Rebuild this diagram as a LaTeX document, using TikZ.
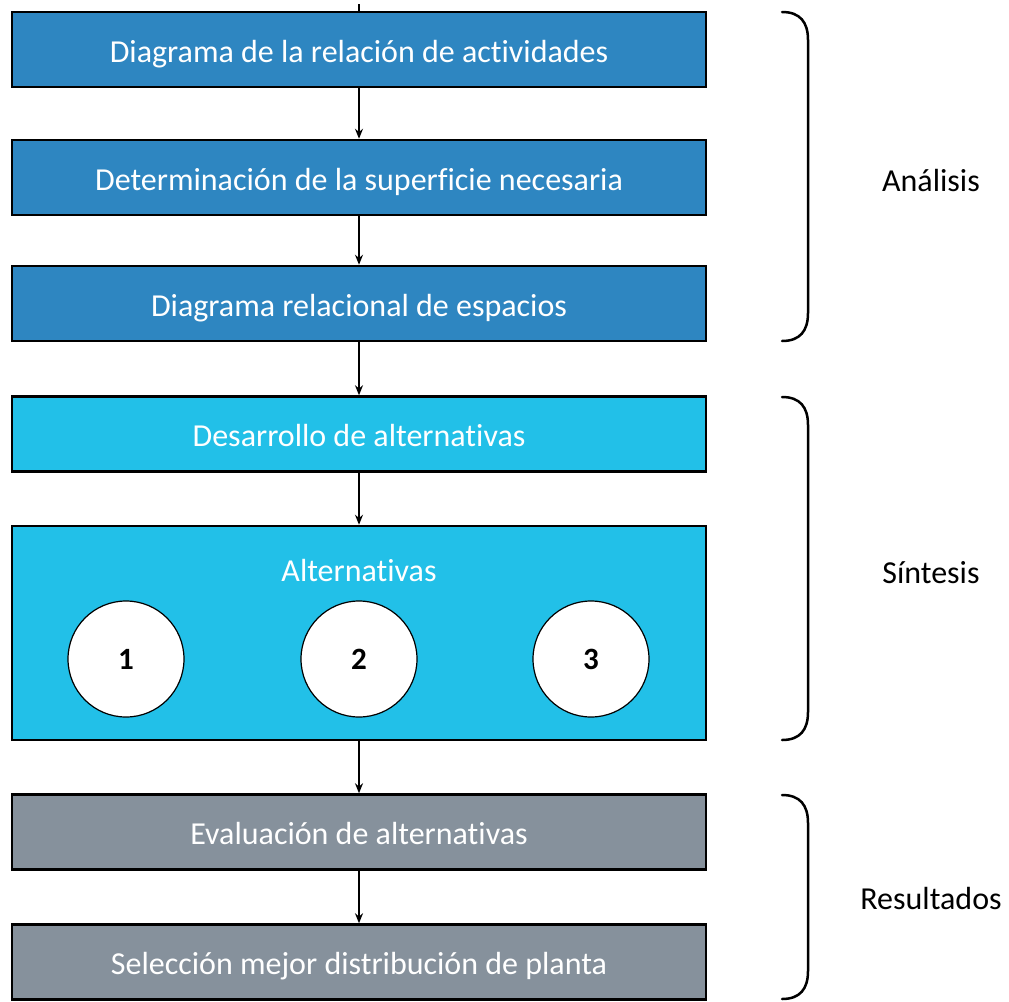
\documentclass[tikz,border=0pt]{standalone}
\usepackage{fontspec}
\setmainfont[Ligatures={NoCommon}]{Carlito}
\usetikzlibrary{arrows.meta}
\definecolor{analisisblue}{RGB}{46,134,193}
\definecolor{sintesiscyan}{RGB}{34,192,232}
\definecolor{resultgray}{RGB}{134,145,156}
\tikzset{
  bigtext/.style={font=\fontsize{32}{38}\selectfont},
  stepbox/.style={draw=black, line width=2.5pt, minimum width=694pt, minimum height=75pt,
    inner sep=0pt, text=white, bigtext, text height=25pt, text depth=0pt},
  altcircle/.style={circle, draw=black, line width=1.2pt, fill=white, minimum size=116pt,
    inner sep=0pt, font=\fontsize{31}{36}\selectfont\bfseries},
  flow/.style={line width=2.4pt, -{Stealth[length=10pt,width=8pt]}},
  bracket/.style={line width=2.5pt, line cap=round},
  phase/.style={bigtext, text=black}
}
\begin{document}
\begin{tikzpicture}[x=1pt,y=-1pt]
\useasboundingbox (0,0) rectangle (1009,1001);
% analysis steps
\node[stepbox, fill=analisisblue] (b1) at (359,49.5) {Diagrama de la relación de actividades};
\node[stepbox, fill=analisisblue] (b2) at (359,177.5) {Determinación de la superficie necesaria};
\node[stepbox, fill=analisisblue] (b3) at (359,303.5) {Diagrama relacional de espacios};
% synthesis steps
\node[stepbox, fill=sintesiscyan] (b4) at (359,434) {Desarrollo de alternativas};
\node[stepbox, fill=sintesiscyan, minimum height=214pt] (b5) at (359,633) {};
\node[text=white, bigtext] (alt) at (359,571) {Alternativas};
\node[altcircle] (c1) at (126,659) {1};
\node[altcircle] (c2) at (359,659) {2};
\node[altcircle] (c3) at (591,659) {3};
% result steps
\node[stepbox, fill=resultgray] (b6) at (359,832) {Evaluación de alternativas};
\node[stepbox, fill=resultgray] (b7) at (359,962) {Selección mejor distribución de planta};
% connectors
\coordinate (start) at (359,4);
\draw[line width=2.4pt] (start) -- (b1.north);
\draw[flow] (b1) -- (b2);
\draw[flow] (b2) -- (b3);
\draw[flow] (b3) -- (b4);
\draw[flow] (b4) -- (b5);
\draw[flow] (b5) -- (b6);
\draw[flow] (b6) -- (b7);
% phase brackets
\draw[bracket] (782,12) .. controls (800,12) and (808,22) .. (808,40) -- (808,313)
  .. controls (808,331) and (800,341) .. (782,341);
\draw[bracket] (782,397) .. controls (800,397) and (808,407) .. (808,425) -- (808,712)
  .. controls (808,730) and (800,740) .. (782,740);
\draw[bracket] (782,795) .. controls (800,795) and (808,805) .. (808,823) -- (808,971)
  .. controls (808,989) and (800,999) .. (782,999);
\node[phase] (pa) at (931,181) {Análisis};
\node[phase] (ps) at (931,573) {Síntesis};
\node[phase] (pr) at (931,898) {Resultados};
\end{tikzpicture}
\end{document}
